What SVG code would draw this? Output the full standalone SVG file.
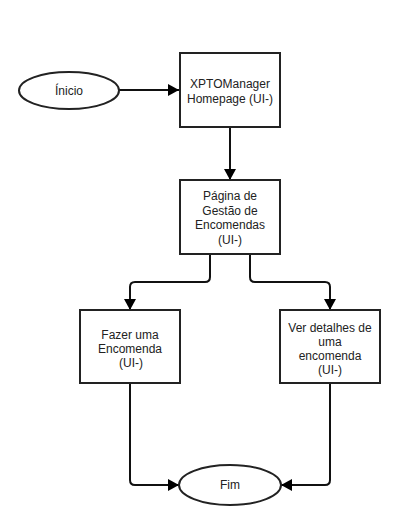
<svg xmlns="http://www.w3.org/2000/svg" width="400" height="525" viewBox="0 0 400 525">
<style>
.box{fill:#fff;stroke:#222;stroke-width:2}
.ell{fill:#fff;stroke:#222;stroke-width:2}
.t{font-family:"Liberation Sans",Arial,sans-serif;font-size:12px;fill:#222;text-anchor:middle}
.c{fill:none;stroke:#111;stroke-width:2}
</style>
<defs>
<marker id="ah" markerUnits="userSpaceOnUse" markerWidth="12" markerHeight="12" refX="11" refY="6" orient="auto">
<path d="M0,0 L11,6 L0,12 z" fill="#000"/>
</marker>
</defs>
<rect width="400" height="525" fill="#fff"/>
<g id="connectors">
<path class="c" d="M119,90 L179,90" marker-end="url(#ah)"/>
<path class="c" d="M230,127 L230,180" marker-end="url(#ah)"/>
<path class="c" d="M210,254 L210,277 Q210,282 205,282 L135,282 Q130,282 130,287 L130,310" marker-end="url(#ah)"/>
<path class="c" d="M250,254 L250,277 Q250,282 255,282 L325,282 Q330,282 330,287 L330,310" marker-end="url(#ah)"/>
<path class="c" d="M130,383 L130,480 Q130,485 135,485 L179,485" marker-end="url(#ah)"/>
<path class="c" d="M330,383 L330,480 Q330,485 325,485 L281,485" marker-end="url(#ah)"/>
</g>
<g id="inicio">
<ellipse class="ell" cx="69" cy="90.5" rx="50" ry="18.5"/>
<text class="t" x="69" y="95">Ínicio</text>
</g>
<g id="homepage">
<rect class="box" x="180" y="53" width="100" height="74"/>
<text class="t" x="230" y="88">XPTOManager</text>
<text class="t" x="230" y="103">Homepage (UI-)</text>
</g>
<g id="gestao">
<rect class="box" x="180" y="180" width="100" height="74"/>
<text class="t" x="230" y="200">Página de</text>
<text class="t" x="230" y="215">Gestão de</text>
<text class="t" x="230" y="229">Encomendas</text>
<text class="t" x="230" y="244">(UI-)</text>
</g>
<g id="fazer">
<rect class="box" x="80" y="310" width="100" height="73"/>
<text class="t" x="130" y="339">Fazer uma</text>
<text class="t" x="130" y="353">Encomenda</text>
<text class="t" x="131" y="367">(UI-)</text>
</g>
<g id="ver">
<rect class="box" x="280" y="310" width="100" height="73"/>
<text class="t" x="330" y="332">Ver detalhes de</text>
<text class="t" x="330" y="346">uma</text>
<text class="t" x="330" y="360">encomenda</text>
<text class="t" x="330" y="374">(UI-)</text>
</g>
<g id="fim">
<ellipse class="ell" cx="230" cy="485" rx="51" ry="20"/>
<text class="t" x="230" y="489">Fim</text>
</g>
</svg>
